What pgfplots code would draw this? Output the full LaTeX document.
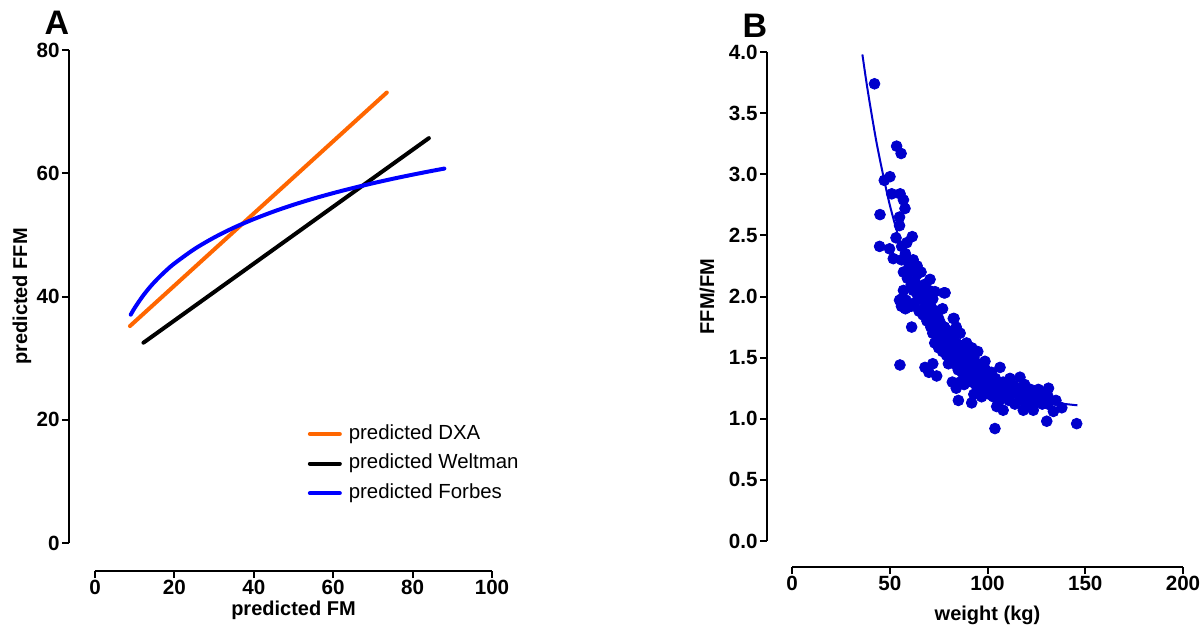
\documentclass[border=0pt]{standalone}
\usepackage{fontspec}
\setmainfont{Liberation Sans}
\usepackage{pgfplots}
\pgfplotsset{compat=1.18}
\definecolor{dxa}{RGB}{255,102,0}
\definecolor{forbes}{RGB}{0,0,255}
\definecolor{ptblue}{RGB}{0,0,204}
\pgfplotsset{prism/.style={
  scale only axis, axis lines=left, axis line style={-, line width=1pt, black},
  tick align=outside, major tick length=3.5pt, tick style={line width=1pt, black},
  /pgf/number format/assume math mode=true,
  ticklabel style={font=\bfseries\fontsize{10.3}{12}\selectfont, inner sep=1pt},
  label style={font=\bfseries\fontsize{10}{12}\selectfont},
  clip=false,
}}
\begin{document}
\begin{tikzpicture}
% Panel A
\begin{axis}[prism, at={(47.5pt,45.5pt)}, anchor=south west,
  width=198.5pt, height=246.5pt,
  xmin=0, xmax=100, ymin=0, ymax=80,
  xtick={0,20,...,100}, ytick={0,20,...,80},
  axis x line shift=14pt, axis y line shift=13pt,
  xlabel={predicted FM}, ylabel={predicted FFM},
  xlabel style={at={(axis description cs:0.5,-0.1359)}, anchor=center},
  ylabel style={at={(axis description cs:-0.1839,0.5)}, anchor=center, rotate=0},
  legend style={at={(axis cs:52,20.0)}, anchor=north west, draw=none, fill=none,
    font=\fontsize{10.2}{12}\selectfont, row sep=5pt,
    nodes={inner xsep=3.5pt, inner ysep=0pt, text height=7.6pt, text depth=2.2pt}},
  legend cell align=left,
  legend image code/.code={\draw[line width=2pt] (0pt,0pt) -- (15pt,0pt);},
]
\addplot[dxa, line width=2pt, line cap=round] coordinates {(8.8,35.2) (73.5,73.1)};
\addlegendentry{predicted DXA}
\addplot[black, line width=2pt, line cap=round] coordinates {(12.2,32.5) (84.1,65.7)};
\addlegendentry{predicted Weltman}
\addplot[forbes, line width=2pt, line cap=round, smooth] coordinates {
(9,37.05) (10,38.15) (12,40.04) (14,41.65) (16,43.03) (18,44.26) (20,45.36)
(25,47.68) (30,49.57) (35,51.18) (40,52.56) (45,53.79) (50,54.89) (55,55.88)
(60,56.78) (65,57.61) (70,58.38) (75,59.10) (80,59.77) (85,60.40) (88,60.76)};
\addlegendentry{predicted Forbes}
\end{axis}
% Panel B
\begin{axis}[prism, at={(396pt,46.5pt)}, anchor=south west,
  width=195.5pt, height=244.5pt,
  xmin=0, xmax=200, ymin=0, ymax=4,
  xtick={0,50,...,200}, ytick={0,0.5,...,4},
  yticklabel style={/pgf/number format/.cd, fixed, fixed zerofill, precision=1},
  axis x line shift=13pt, axis y line shift=12.5pt,
  xlabel={weight (kg)}, ylabel={FFM/FM},
  xlabel style={at={(axis description cs:0.5,-0.1513)}, anchor=center},
  ylabel style={at={(axis description cs:-0.2174,0.5)}, anchor=center, rotate=0},
]
\addplot[ptblue, only marks, mark=*, mark size=2.7pt] coordinates {
(42.2,3.74) (53.5,3.23) (55.8,3.17) (47.2,2.95) (50.1,2.98) (51,2.84) (55.3,2.84)
(57,2.79) (57.8,2.72) (45,2.67) (55,2.65) (55,2.58) (53.2,2.48) (61.5,2.49)
(44.8,2.41) (49.9,2.39) (51.8,2.31) (56.1,2.41) (58.7,2.44) (59.6,2.30) (61.3,2.22)
(63.8,2.18) (70.6,2.14) (58.3,1.97) (60.9,1.92) (73.1,2.04) (77.7,2.03) (61.2,1.75)
(82.5,1.82) (55.2,1.44) (78.3,2.03) (82.9,1.82) (89.3,1.62) (98.7,1.47) (106.4,1.42)
(85.1,1.15) (91.9,1.13) (103.8,0.92) (116.6,1.34) (111.5,1.33) (126,1.24) (131.2,1.25)
(130.3,0.98) (145.6,0.96) (138,1.09) (133.7,1.06) (118.3,1.07) (123.4,1.07) (108,1.07)
(104.7,1.10) (131,1.18) (120,1.18)
(56,2.3) (57,2.2) (58,2.35) (59,2.15) (57,2.05) (58,1.9) (56,1.98) (55,1.97) (56,1.92)
(60,2.25) (61,2.1) (62,2.05) (62,2.3) (63,1.95) (63,2.12) (64,2.02) (64,2.25) (65,1.88)
(65,2.08) (66,1.98) (66,2.2) (67,1.85) (67,2.02) (68,1.92) (68,2.1) (69,1.8) (69,1.98)
(70,1.88) (70,2.05)
(71,1.75) (71,1.92) (72,1.7) (72,1.85) (72,1.98) (73,1.62) (73,1.78) (74,1.7) (74,1.88)
(75,1.58) (75,1.72) (75,1.82) (76,1.65) (76,1.78) (77,1.55) (77,1.7) (77,1.9) (78,1.6)
(78,1.75) (79,1.52) (79,1.65) (80,1.58) (80,1.72) (80,1.45)
(68,1.42) (70,1.38) (72,1.45) (74,1.35)
(81,1.5) (81,1.63) (82,1.55) (82,1.68) (83,1.45) (83,1.58) (84,1.5) (84,1.62) (85,1.4)
(85,1.55) (86,1.48) (86,1.6) (87,1.38) (87,1.52) (88,1.45) (88,1.57) (89,1.35) (89,1.5)
(90,1.42) (90,1.55) (82,1.3) (84,1.25) (86,1.3) (88,1.28) (84,1.75) (86,1.7)
(91,1.35) (91,1.48) (92,1.3) (92,1.42) (93,1.38) (93,1.5) (94,1.28) (94,1.4) (95,1.33)
(95,1.45) (96,1.25) (96,1.38) (97,1.32) (97,1.43) (98,1.22) (98,1.35) (99,1.3) (99,1.4)
(100,1.25) (100,1.35) (92,1.58) (95,1.55) (93,1.2) (97,1.18)
(101,1.2) (101,1.3) (102,1.27) (102,1.38) (103,1.18) (104,1.25) (104,1.33) (105,1.2)
(106,1.28) (106,1.15) (107,1.22) (108,1.3) (108,1.17) (109,1.25) (110,1.2) (110,1.3)
(111,1.15) (112,1.22) (113,1.28) (114,1.12) (115,1.2) (116,1.25) (117,1.15) (118,1.2)
(119,1.28) (120,1.12) (121,1.18) (122,1.24) (123,1.1) (124,1.2) (125,1.15) (127,1.22)
(128,1.12) (129,1.18) (131,1.12) (135,1.15)};
\addplot[ptblue, line width=1pt, smooth] coordinates {
(36,3.98) (38,3.76) (40,3.56) (43,3.28) (46,3.04) (50,2.75) (55,2.46) (60,2.21)
(65,2.01) (70,1.84) (80,1.59) (90,1.42) (100,1.31) (110,1.23) (120,1.18) (130,1.14)
(146,1.11)};
\end{axis}
\node[font=\bfseries\fontsize{17}{19}\selectfont] at (28.5pt,305.5pt) {A};
\node[font=\bfseries\fontsize{17}{19}\selectfont] at (377.5pt,304pt) {B};
\pgfresetboundingbox
\useasboundingbox (0,0) rectangle (601pt,317pt);
\end{tikzpicture}
\end{document}
